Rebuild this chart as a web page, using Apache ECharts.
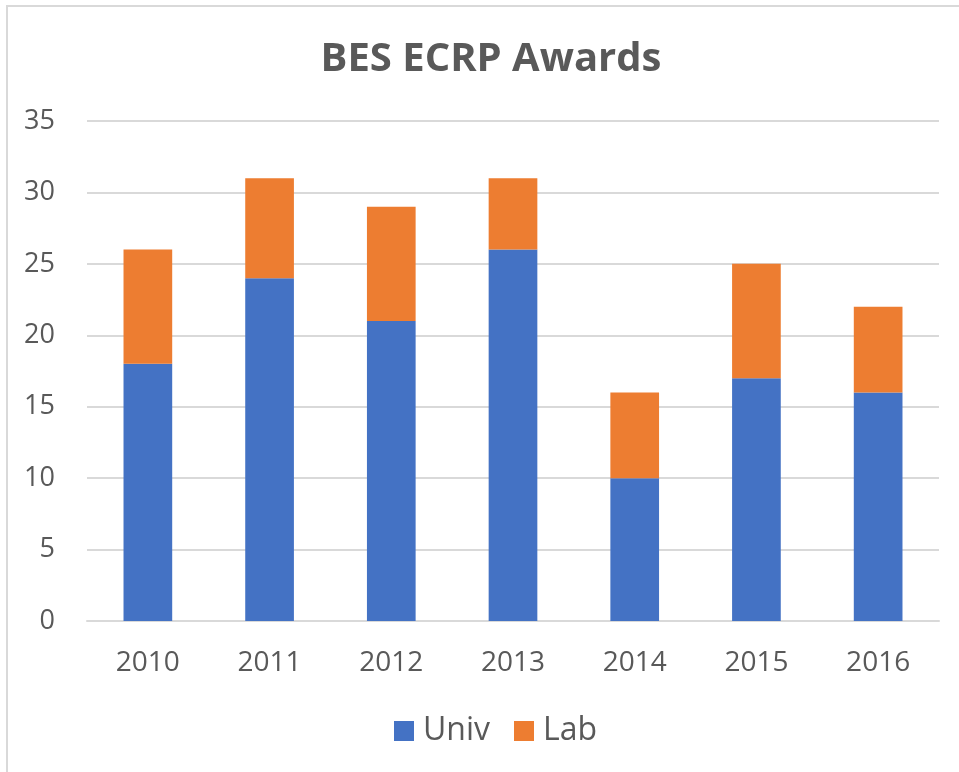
<!DOCTYPE html>
<html>
<head>
<meta charset="utf-8">
<title>BES ECRP Awards</title>
<script src="https://cdn.jsdelivr.net/npm/echarts@6/dist/echarts.min.js"></script>
<style>
  html, body { margin: 0; padding: 0; background: #fff; }
  #chart { width: 959px; height: 772px; }
</style>
</head>
<body>
<div id="chart"></div>
<script>
// 数据
const years = ["2010", "2011", "2012", "2013", "2014", "2015", "2016"];
const univ = [18, 24, 21, 26, 10, 17, 16];
const lab = [8, 7, 8, 5, 6, 8, 6];

const chart = echarts.init(document.getElementById("chart"), null, { renderer: "canvas" });
const font = "'Open Sans', 'Noto Sans', sans-serif";

chart.setOption({
  backgroundColor: "#fff",
  animation: false,
  textStyle: { fontFamily: font },
  graphic: [{
    // 外框（右、下边超出画面）
    type: "rect",
    shape: { x: 7, y: 6, width: 1200, height: 1200 },
    style: { fill: "none", stroke: "#d9d9d9", lineWidth: 2 },
    silent: true,
  }],
  title: {
    text: "BES ECRP Awards",
    left: 486,
    top: 35,
    textAlign: "center",
    textStyle: { color: "#595959", fontSize: 40, fontWeight: "bold", fontFamily: font },
  },
  legend: {
    data: ["Univ", "Lab"],
    top: 709,
    left: 389,
    itemWidth: 20,
    itemHeight: 20,
    itemGap: 24,
    icon: "rect",
    textStyle: { color: "#595959", fontSize: 32, lineHeight: 34, padding: [0, 0, 0, 4], fontFamily: font },
  },
  grid: { left: 87, right: 20, top: 121, bottom: 151, containLabel: false },
  xAxis: {
    type: "category",
    data: years,
    axisLine: { lineStyle: { color: "#d9d9d9", width: 2 } },
    axisTick: { show: false },
    axisLabel: { color: "#595959", fontSize: 28, margin: 28, fontFamily: font },
  },
  yAxis: {
    type: "value",
    min: 0,
    max: 35,
    interval: 5,
    axisLine: { show: false },
    axisTick: { show: false },
    axisLabel: { color: "#595959", fontSize: 27, margin: 32, fontFamily: font },
    splitLine: { lineStyle: { color: "#d9d9d9", width: 2 } },
  },
  series: [
    {
      name: "Univ",
      type: "bar",
      stack: "total",
      barWidth: "40%",
      itemStyle: { color: "#4472C4" },
      data: univ,
    },
    {
      name: "Lab",
      type: "bar",
      stack: "total",
      barWidth: "40%",
      itemStyle: { color: "#ED7D31" },
      data: lab,
    },
  ],
});
</script>
</body>
</html>
